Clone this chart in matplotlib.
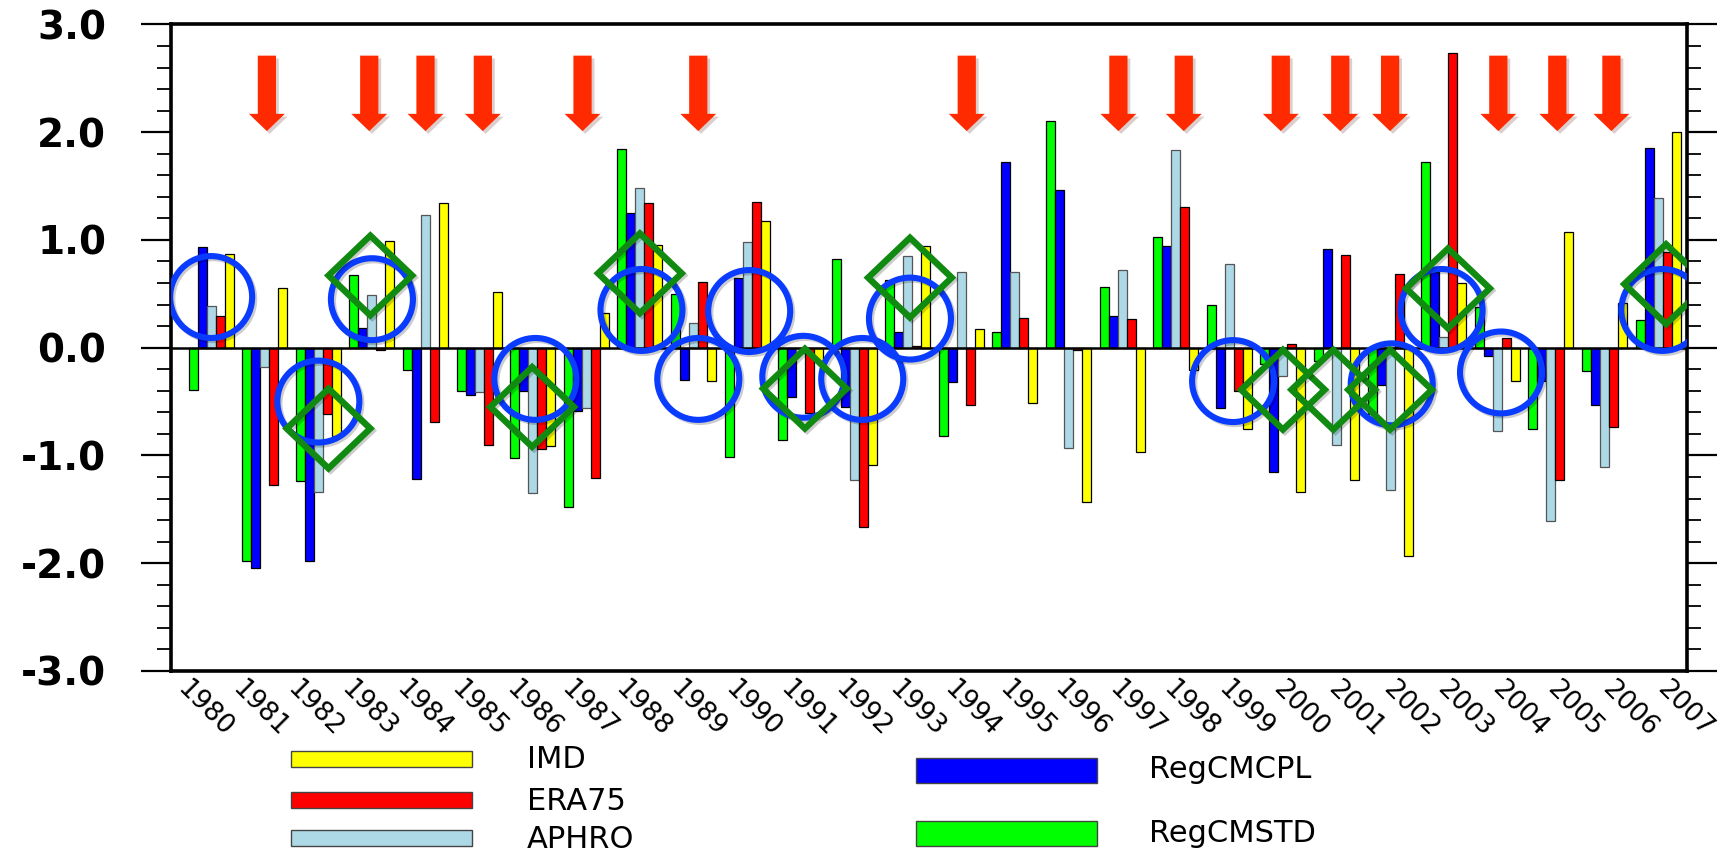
"""
Seasonal anomaly bars, 1980-2007: two RegCM runs against three observed /
reanalysis products, with the event markers (arrows, circles, diamonds)
drawn on top.
"""

import matplotlib
matplotlib.use("Agg")
import matplotlib.pyplot as plt
import matplotlib.ticker as mticker
import matplotlib.patheffects as pe
import matplotlib.transforms as mtransforms
from matplotlib.patches import Ellipse, Polygon, FancyArrow, Rectangle
import numpy as np

# ── data ─────────────────────────────────────────────────────────────────────
YEARS = list(range(1980, 2008))

REGCM_STD = [-0.39, -1.98, -1.24, 0.67, -0.21, -0.40, -1.02, -1.48, 1.84, 0.50,
             -1.01, -0.86, 0.82, 0.63, -0.82, 0.15, 2.10, 0.56, 1.03, 0.40,
             -0.15, -0.12, -0.62, 1.72, 0.38, -0.75, -0.22, 0.26]
REGCM_CPL = [0.93, -2.04, -1.98, 0.18, -1.22, -0.44, -0.40, -0.59, 1.25, -0.30,
             0.65, -0.46, -0.55, 0.15, -0.32, 1.72, 1.46, 0.29, 0.94, -0.56,
             -1.15, 0.92, -0.35, 0.70, -0.08, -0.31, -0.53, 1.85]
APHRO = [0.39, -0.18, -1.34, 0.49, 1.23, -0.41, -1.35, -0.56, 1.48, 0.23,
         0.98, -0.05, -1.23, 0.85, 0.70, 0.70, -0.93, 0.72, 1.83, 0.78,
         -0.26, -0.90, -1.32, 0.10, -0.77, -1.61, -1.11, 1.39]
ERA75 = [0.29, -1.27, -0.62, -0.02, -0.69, -0.90, -0.94, -1.21, 1.34, 0.61,
         1.35, -0.61, -1.66, 0.02, -0.53, 0.28, -0.02, 0.27, 1.31, -0.40,
         0.03, 0.86, 0.68, 2.73, 0.09, -1.23, -0.74, 0.89]
IMD = [0.87, 0.55, -0.82, 0.99, 1.34, 0.52, -0.91, 0.32, 0.95, -0.31,
       1.18, -0.12, -1.09, 0.94, 0.17, -0.51, -1.43, -0.97, -0.21, -0.75,
       -1.34, -1.23, -1.93, 0.60, -0.31, 1.07, 0.41, 2.00]

# event markers (year, level)
ARROW_YEARS = [1981.04, 1982.95, 1984.0, 1985.07, 1986.93, 1989.09, 1994.1,
               1996.93, 1998.15, 1999.96, 2001.07, 2002.0, 2004.02, 2005.12,
               2006.13]
CIRCLE_YEARS = [1980.0, 1982.0, 1983.0, 1986.05, 1988.03, 1989.09, 1990.04,
                1991.05, 1992.15, 1993.04, 1999.07, 2002.03, 2002.96, 2004.07,
                2007.08]
CIRCLE_LEVELS = [0.47, -0.50, 0.45, -0.29, 0.35, -0.29, 0.34, -0.27, -0.29,
                 0.27, -0.31, -0.34, 0.35, -0.23, 0.35]
DIAMOND_YEARS = [1982.19, 1982.97, 1985.99, 1988.0, 1991.08, 1993.04, 2000.0,
                 2000.94, 2002.0, 2003.08, 2007.15]
DIAMOND_LEVELS = [-0.75, 0.67, -0.55, 0.69, -0.38, 0.65, -0.39, -0.39, -0.39,
                  0.55, 0.59]

SERIES = [  # drawing order inside each year group, left to right
    ("RegCMSTD", REGCM_STD, "#00ff00"),
    ("RegCMCPL", REGCM_CPL, "#0000ff"),
    ("APHRO",    APHRO,     "#add8e6"),
    ("ERA75",    ERA75,     "#ff0000"),
    ("IMD",      IMD,       "#ffff00"),
]
LEGEND_LEFT = ["IMD", "ERA75", "APHRO"]
LEGEND_RIGHT = ["RegCMCPL", "RegCMSTD"]

BAR_W = 0.168
ARROW_RED = "#ff2a00"
RING_BLUE = "#0a3cff"
DIAMOND_GREEN = "#108a10"

shadow_line = [pe.SimpleLineShadow(offset=(1.5, -1.5), alpha=0.2), pe.Normal()]
shadow_patch = [pe.SimplePatchShadow(offset=(2, -2), alpha=0.2), pe.Normal()]


def plot_anomalies():
    fig = plt.figure(figsize=(17.2, 8.59), dpi=100)
    ax = fig.add_axes([0.0994, 0.2189, 0.8814, 0.7527])

    x = np.array(YEARS, dtype=float)
    colors = {}
    for k, (name, vals, col) in enumerate(SERIES):
        colors[name] = col
        edge = "#555555" if name == "APHRO" else "black"
        ax.bar(x + (k - 2) * BAR_W, vals, width=BAR_W, color=col,
               edgecolor=edge, linewidth=0.9, zorder=2)

    ax.axhline(0, color="black", linewidth=1.8, zorder=3)

    # arrows
    for xa in ARROW_YEARS:
        arr = FancyArrow(xa, 2.71, 0, -0.70, width=0.34, head_width=0.67,
                         head_length=0.16, length_includes_head=True,
                         color=ARROW_RED, linewidth=0, zorder=4)
        arr.set_path_effects(shadow_patch)
        ax.add_patch(arr)

    # blue rings
    for xc, yc in zip(CIRCLE_YEARS, CIRCLE_LEVELS):
        ring = Ellipse((xc, yc), width=1.53, height=0.76, fill=False,
                       edgecolor=RING_BLUE, linewidth=4.4, zorder=5)
        ring.set_path_effects(shadow_line)
        ax.add_patch(ring)

    # green diamonds
    hw, hh = 0.78, 0.37
    for xd, yd in zip(DIAMOND_YEARS, DIAMOND_LEVELS):
        dia = Polygon([(xd - hw, yd), (xd, yd + hh), (xd + hw, yd), (xd, yd - hh)],
                      closed=True, fill=False, edgecolor=DIAMOND_GREEN,
                      linewidth=4.6, joinstyle="miter", zorder=6)
        dia.set_path_effects(shadow_line)
        ax.add_patch(dia)

    # axes cosmetics
    ax.set_xlim(1979.25, 2007.54)
    ax.set_ylim(-3, 3)
    ax.set_xticks([])
    ax.yaxis.set_major_locator(mticker.MultipleLocator(1))
    ax.yaxis.set_minor_locator(mticker.MultipleLocator(0.2))
    ax.yaxis.set_major_formatter(mticker.FormatStrFormatter("%.1f"))
    ax.tick_params(axis="y", which="major", direction="out", length=21.6,
                   width=1.6, left=True, right=True, labelsize=28, pad=25)
    ax.tick_params(axis="y", which="minor", direction="out", length=10,
                   width=1.3, left=True, right=True)
    for lab in ax.get_yticklabels():
        lab.set_fontweight("bold")
    for sp in ax.spines.values():
        sp.set_linewidth(2.6)

    # rotated year labels
    trans = mtransforms.blended_transform_factory(ax.transData, ax.transAxes)
    for i, yr in enumerate(YEARS):
        ax.text(yr - 0.12 + 0.0226 * i, -0.058, str(yr), transform=trans,
                rotation=-45, ha="center", va="center", fontsize=19)

    # hand-placed legend below the axes
    def legend_row(x0, x1, yc, h, name):
        fig.patches.append(Rectangle((x0 / 1720, 1 - (yc + h / 2) / 859),
                                     (x1 - x0) / 1720, h / 859,
                                     transform=fig.transFigure,
                                     facecolor=colors[name], edgecolor="#444444",
                                     linewidth=1.0))

    for name, yc in zip(LEGEND_LEFT, [759, 800, 838]):
        legend_row(291, 472, yc, 16, name)
        fig.text(527 / 1720, 1 - (yc + 1) / 859, name, fontsize=22,
                 ha="left", va="center")
    for name, yc in zip(LEGEND_RIGHT, [770, 833]):
        legend_row(916, 1097, yc, 25, name)
        fig.text(1149 / 1720, 1 - yc / 859, name, fontsize=22,
                 ha="left", va="center")

    fig.savefig("out.png", dpi=100, facecolor="white")
    return fig


if __name__ == "__main__":
    plot_anomalies()
